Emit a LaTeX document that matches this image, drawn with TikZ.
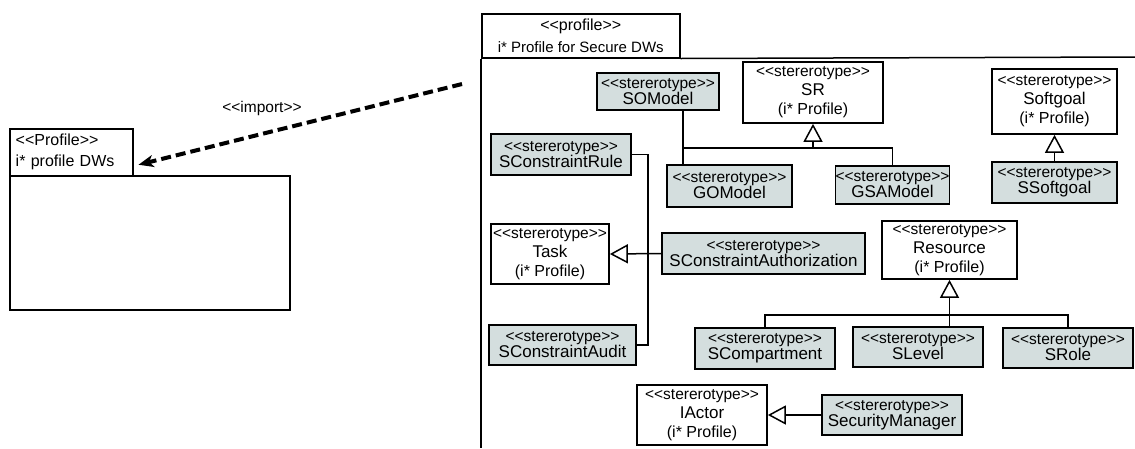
\documentclass[tikz,border=0pt]{standalone}
\usepackage{fontspec}
\setmainfont{Liberation Sans}
\usetikzlibrary{arrows.meta,calc}
\definecolor{stfill}{RGB}{212,222,222}
% guillemet-like brackets kept as two separate characters
\newcommand\lgl{<\kern0pt<}
\newcommand\rgl{>\kern0pt>}
\newcommand\sttag{{\fontsize{15.5}{15.5}\selectfont\lgl stererotype\rgl}}
\newcommand\iprof{{\fontsize{16}{16}\selectfont(i* Profile)}}

\begin{document}
\begin{tikzpicture}[x=1pt,y=-1pt,
  line cap=butt,
  umlbox/.style={draw, line width=1.7pt, inner sep=0pt, align=center},
  sbox/.style={umlbox, fill=stfill, font=\fontsize{17}{16}\selectfont},
  pbox/.style={umlbox, fill=white, font=\fontsize{17}{19}\selectfont},
  pkg/.style={draw, line width=1.5pt},
  conn/.style={draw, line width=1.5pt},
  gen/.style={conn, -{Triangle[open, length=18pt, width=19pt, line width=1.5pt]}},
  importline/.style={line width=4pt, dash pattern=on 10pt off 5pt,
    -{Stealth[length=15pt, width=12pt, inset=4pt]}}
]
\useasboundingbox (0,0) rectangle (1135,448);

% ---------- imported profile (left package) ----------
\node[pkg, inner xsep=6pt, inner ysep=0pt, text width=111pt, minimum height=47pt,
      align=left, anchor=north west, font=\fontsize{16}{21}\selectfont]
  (ltab) at (9,128) {\lgl Profile\rgl\\ i* profile DWs};
\node[pkg, minimum width=280pt, minimum height=134pt, anchor=north west] (lbody) at (9,175) {};

% ---------- i* profile for secure DWs (right package) ----------
\node[pkg, minimum width=198pt, minimum height=44pt, inner sep=0pt, align=center,
      anchor=north west, font=\fontsize{15}{22}\selectfont]
  (rtab) at (481,13) {{\fontsize{16}{16}\selectfont\lgl profile\rgl}\\ i* Profile for Secure DWs};
\coordinate (rbottom) at (481,448);
\coordinate (rright) at (1135,57);
\draw[pkg] (rtab.south west) -- (rtab.south west |- rbottom);
\draw[pkg] (rtab.south east) -- (rright);

% ---------- import dependency ----------
\coordinate (impsrc) at (462,84);
\draw[importline] (impsrc) -- ([xshift=5pt,yshift=-12.5pt]ltab.east);
\node[font=\fontsize{15.5}{15.5}\selectfont] (implabel) at (262,108) {\lgl import\rgl};

% ---------- stereotypes ----------
\node[sbox, minimum width=122pt, minimum height=37pt] (somodel) at (658,91.5) {\sttag\\ SOModel};
\node[pbox, minimum width=140pt, minimum height=61pt] (sr) at (813,92.5) {\sttag\\ SR\\ \iprof};
\node[pbox, minimum width=125pt, minimum height=65pt] (softgoal) at (1054.5,101.5) {\sttag\\ Softgoal\\ \iprof};
\node[sbox, minimum width=140pt, minimum height=41pt] (scrule) at (561,154.5) {\sttag\\ SConstraintRule};
\node[sbox, minimum width=125pt, minimum height=42pt] (gomodel) at (729.5,186) {\sttag\\ GOModel};
\node[sbox, minimum width=113pt, minimum height=38pt] (gsamodel) at (892.5,185) {\sttag\\ GSAModel};
\node[sbox, minimum width=125pt, minimum height=41pt] (ssoftgoal) at (1054.5,182.5) {\sttag\\ SSoftgoal};
\node[pbox, minimum width=118pt, minimum height=60pt] (task) at (550,254) {\sttag\\ Task\\ \iprof};
\node[sbox, minimum width=203pt, minimum height=41pt] (scauth) at (763.5,253.5) {\sttag\\ SConstraintAuthorization};
\node[pbox, minimum width=135pt, minimum height=58pt] (resource) at (949.5,250) {\sttag\\ Resource\\ \iprof};
\node[sbox, minimum width=147pt, minimum height=40pt] (scaudit) at (562.5,345) {\sttag\\ SConstraintAudit};
\node[sbox, minimum width=140pt, minimum height=41pt] (scomp) at (765,348.5) {\sttag\\ SCompartment};
\node[sbox, minimum width=130pt, minimum height=40pt] (slevel) at (918,347) {\sttag\\ SLevel};
\node[sbox, minimum width=130pt, minimum height=40pt] (srole) at (1068,348) {\sttag\\ SRole};
\node[pbox, minimum width=130pt, minimum height=60pt] (iactor) at (702,415) {\sttag\\ IActor\\ \iprof};
\node[sbox, minimum width=140pt, minimum height=40pt] (secmgr) at (892,415) {\sttag\\ SecurityManager};

% ---------- SR specialisations ----------
\coordinate (srbus) at (683,148);
\draw[conn] (somodel.south -| srbus) -- (gomodel.north -| srbus);
\draw[conn] (srbus) -| (gsamodel.north);
\draw[gen] (sr.south |- srbus) -- (sr.south);

% ---------- Softgoal ----------
\draw[gen] (ssoftgoal.north) -- (softgoal.south);

% ---------- Task specialisations ----------
\coordinate (taskbus) at (648,253);
\draw[conn] (scrule.east) -- (taskbus |- scrule.east) -- (taskbus |- scaudit.east) -- (scaudit.east);
\draw[gen] (scauth.west) -- (task.east);

% ---------- Resource specialisations ----------
\coordinate (resbus) at (949.5,315);
\draw[conn] (scomp.north) |- (resbus) -| (srole.north);
\draw[gen] (slevel.north -| resource.south) -- (resource.south);

% ---------- IActor ----------
\draw[gen] (secmgr.west) -- (iactor.east);
\end{tikzpicture}
\end{document}
